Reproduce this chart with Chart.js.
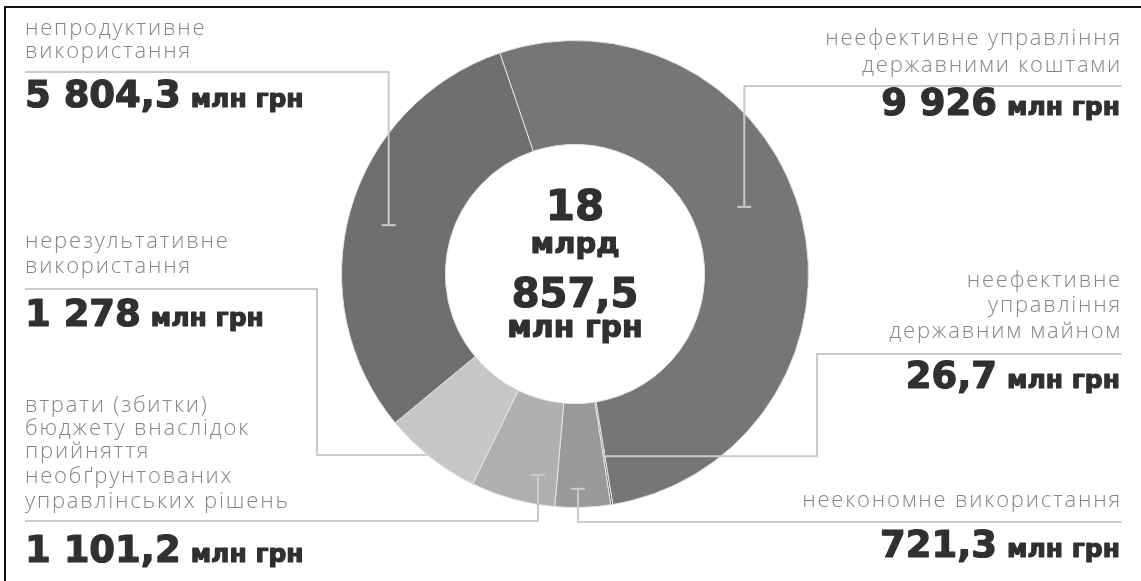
<!DOCTYPE html>
<html lang="uk">
<head>
<meta charset="utf-8">
<title>Порушення у використанні бюджетних коштів</title>
<script src="https://cdn.jsdelivr.net/npm/chart.js@4.4.1/dist/chart.umd.min.js"></script>
<style>
  html, body { margin: 0; padding: 0; background: #fff; }
  .wrap { position: relative; width: 1141px; height: 581px; }
</style>
</head>
<body>
<div class="wrap"><canvas id="chart"></canvas></div>
<script>
// Суми порушень, млн грн (за годинниковою стрілкою від верху)
const categories = [
  ['неефективне управління', 'державними коштами'],
  ['неефективне', 'управління', 'державним майном'],
  ['неекономне використання'],
  ['втрати (збитки)', 'бюджету внаслідок', 'прийняття', 'необґрунтованих', 'управлінських рішень'],
  ['нерезультативне', 'використання'],
  ['непродуктивне', 'використання']
];
const values = [9926, 26.7, 721.3, 1101.2, 1278, 5804.3];
const unit = 'млн грн';
const colors = ['#767676', '#696969', '#999999', '#b0b0b0', '#c6c6c6', '#6f6f6f'];

const LINE = '#cacaca';
const LABEL = '#868686';
const DARK = '#303030';
const LABEL_FONT = '300 22px "Open Sans", Lato, sans-serif';
const LABEL_SPACING = '1.8px';
const NUM_FONT = 'bold 37px "DejaVu Sans", sans-serif';
const UNIT_FONT = 'bold 25px "DejaVu Sans", sans-serif';
const LEFT_X = 25, RIGHT_X = 1120, RULE_END = 1122;

// Розкладка підписів: базові лінії тексту, лінія-виноска, точка прив'язки в сегменті
const layout = [
  { side: 'right', lines: [45, 72], value: 115, f: 0.46, r: 0.78,
    route: a => [[a.x, a.y], [a.x, 86], [RULE_END, 86]], tick: 'h' },
  { side: 'right', lines: [287, 312, 338], value: 388, f: 0.5, r: 0.79,
    route: a => [[a.x, a.y], [817, a.y], [817, 354], [RULE_END, 354]], tick: 'v' },
  { side: 'right', lines: [507], value: 557, f: 0.58, r: 0.92,
    route: a => [[a.x, a.y], [a.x, 522], [RULE_END, 522]], tick: 'h' },
  { side: 'left', lines: [412, 435, 458, 483, 508], value: 562, f: 0.26, r: 0.875,
    route: a => [[a.x, a.y], [a.x, 521], [LEFT_X, 521]], tick: 'h' },
  { side: 'left', lines: [248, 273], value: 326, f: 0.5, r: 0.8, under: true,
    route: a => [[440, 455], [317, 455], [317, 289], [LEFT_X, 289]] },
  { side: 'left', lines: [35, 58], value: 107, f: 0.49, r: 0.825,
    route: a => [[a.x, a.y], [a.x, 72], [LEFT_X, 72]], tick: 'h' }
];

function fmt(v) {
  const [i, d] = v.toFixed(1).split('.');
  const int = i.replace(/\B(?=(\d{3})+(?!\d))/g, ' ');
  return d === '0' ? int : int + ',' + d;
}

function anchorOf(chart, i) {
  const arc = chart.getDatasetMeta(0).data[i];
  const L = layout[i];
  const a = arc.startAngle + L.f * (arc.endAngle - arc.startAngle);
  const r = arc.outerRadius * L.r;
  return { x: arc.x + r * Math.cos(a), y: arc.y + r * Math.sin(a) };
}

function drawLeader(ctx, chart, i) {
  const L = layout[i];
  const a = anchorOf(chart, i);
  const pts = L.route(a);
  ctx.save();
  ctx.strokeStyle = LINE;
  ctx.lineWidth = 2;
  ctx.beginPath();
  pts.forEach(([x, y], k) => k ? ctx.lineTo(x, y) : ctx.moveTo(x, y));
  ctx.stroke();
  if (L.tick === 'h') {
    ctx.beginPath(); ctx.moveTo(a.x - 7, a.y); ctx.lineTo(a.x + 7, a.y); ctx.stroke();
  } else if (L.tick === 'v') {
    ctx.beginPath(); ctx.moveTo(a.x, a.y - 7); ctx.lineTo(a.x, a.y + 7); ctx.stroke();
  }
  ctx.restore();
}

// жирний текст з легкою обводкою, щоб виглядав щільніше
function heavyText(ctx, text, x, y) {
  ctx.fillText(text, x, y);
  ctx.strokeText(text, x, y);
}

const callouts = {
  id: 'callouts',
  beforeDraw(chart) {
    const ctx = chart.ctx;
    ctx.save();
    ctx.fillStyle = '#111';
    ctx.fillRect(4, 6, chart.width - 4, 2);
    ctx.fillRect(4, 6, 2, chart.height - 6);
    ctx.restore();
  },
  beforeDatasetsDraw(chart) {
    layout.forEach((L, i) => { if (L.under) drawLeader(chart.ctx, chart, i); });
  },
  afterDatasetsDraw(chart) {
    const ctx = chart.ctx;
    layout.forEach((L, i) => { if (!L.under) drawLeader(ctx, chart, i); });

    ctx.save();
    ctx.textBaseline = 'alphabetic';
    ctx.strokeStyle = DARK;
    ctx.lineWidth = 1.2;
    ctx.lineJoin = 'round';
    layout.forEach((L, i) => {
      const right = L.side === 'right';
      ctx.font = LABEL_FONT;
      ctx.letterSpacing = LABEL_SPACING;
      ctx.fillStyle = LABEL;
      ctx.textAlign = right ? 'right' : 'left';
      categories[i].forEach((t, k) => ctx.fillText(t, right ? RIGHT_X + 2 : LEFT_X, L.lines[k]));
      ctx.letterSpacing = '0px';

      const num = fmt(values[i]);
      ctx.fillStyle = DARK;
      ctx.font = NUM_FONT;
      const nw = ctx.measureText(num).width;
      ctx.font = UNIT_FONT;
      const uw = ctx.measureText(unit).width;
      const gap = 10;
      const x0 = right ? RIGHT_X - uw - gap - nw : LEFT_X;
      ctx.textAlign = 'left';
      ctx.font = NUM_FONT;
      heavyText(ctx, num, x0, L.value);
      ctx.font = UNIT_FONT;
      heavyText(ctx, unit, x0 + nw + gap, L.value);
    });

    // підсумок у центрі кільця
    const arc = chart.getDatasetMeta(0).data[0];
    const total = values.reduce((s, v) => s + v, 0);
    const bn = Math.floor(total / 1000);
    const rest = total - bn * 1000;
    ctx.fillStyle = DARK;
    ctx.textAlign = 'center';
    ctx.font = 'bold 42px "DejaVu Sans", sans-serif';
    heavyText(ctx, String(bn), arc.x, 220);
    ctx.font = 'bold 29px "DejaVu Sans", sans-serif';
    heavyText(ctx, 'млрд', arc.x, 253);
    ctx.font = 'bold 40px "DejaVu Sans", sans-serif';
    heavyText(ctx, fmt(rest), arc.x, 307);
    ctx.font = 'bold 30px "DejaVu Sans", sans-serif';
    heavyText(ctx, unit, arc.x, 337);
    ctx.restore();
  }
};

new Chart(document.getElementById('chart'), {
  type: 'doughnut',
  data: {
    labels: categories.map(l => l.join(' ')),
    datasets: [{
      data: values,
      backgroundColor: colors,
      borderColor: '#e4e4e4',
      borderWidth: 1,
      hoverOffset: 0
    }]
  },
  options: {
    responsive: true,
    maintainAspectRatio: false,
    animation: false,
    rotation: -18.8,
    cutout: '55.5%',
    layout: { padding: { left: 341, right: 332, top: 40, bottom: 73 } },
    plugins: {
      legend: { display: false },
      tooltip: { enabled: false }
    }
  },
  plugins: [callouts]
});
</script>
</body>
</html>
